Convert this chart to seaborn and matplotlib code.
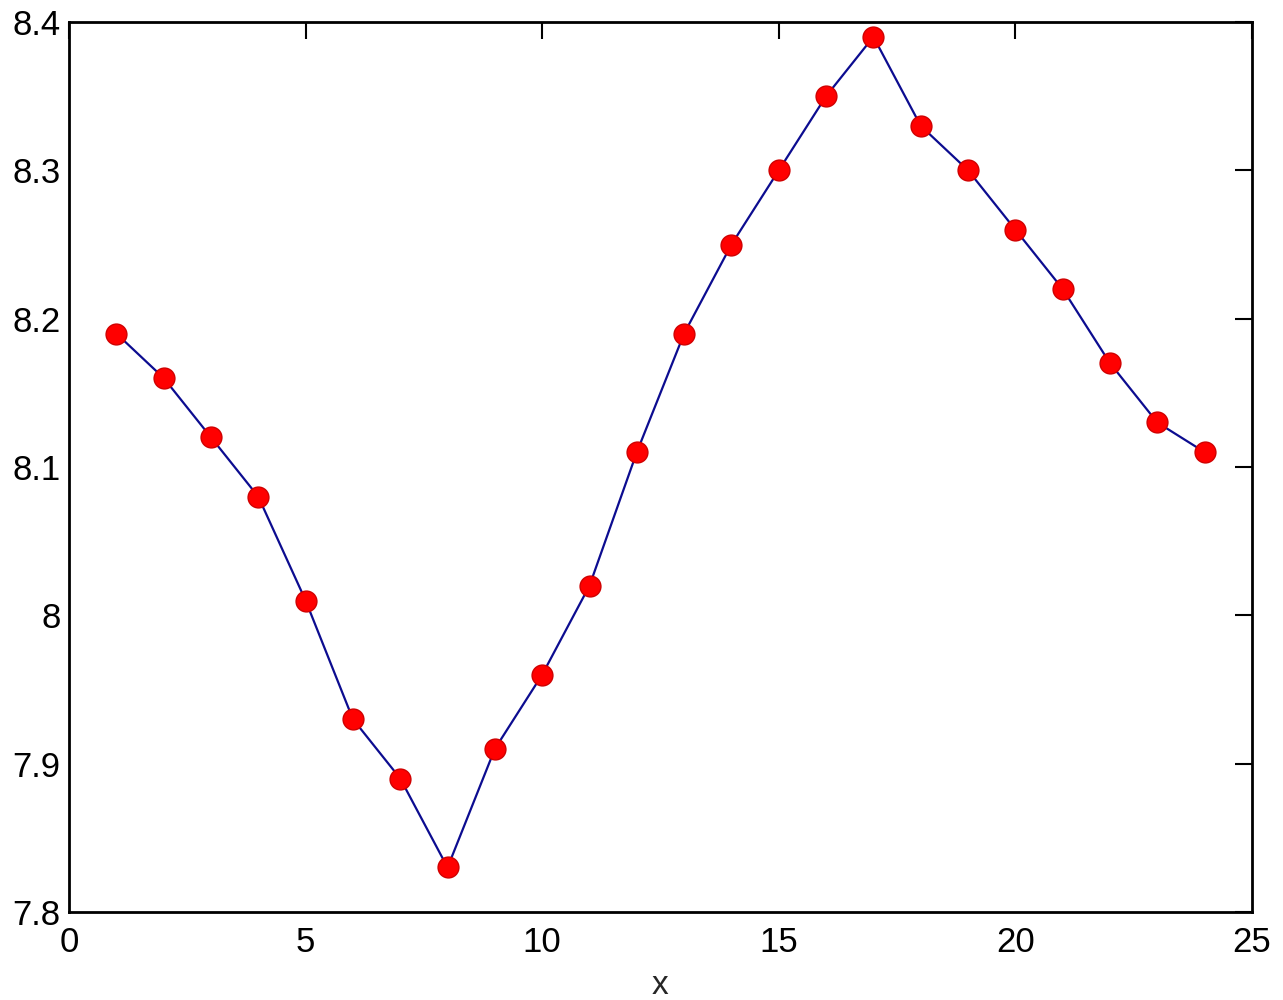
import numpy as np
import pandas as pd
import matplotlib
matplotlib.use('Agg')
import matplotlib.pyplot as plt
import seaborn as sns

# данные с графика
x_vals = list(range(1, 25))
y_vals = [8.19, 8.16, 8.12, 8.08, 8.01, 7.93, 7.89, 7.83, 7.91, 7.96, 8.02, 8.11,
          8.19, 8.25, 8.30, 8.35, 8.39, 8.33, 8.30, 8.26, 8.22, 8.17, 8.13, 8.11]
x_ticks = [0, 5, 10, 15, 20, 25]
y_ticks = [7.8, 7.9, 8.0, 8.1, 8.2, 8.3, 8.4]
y_tick_labels = ['7.8', '7.9', '8', '8.1', '8.2', '8.3', '8.4']

df = pd.DataFrame({'x': x_vals, 'y': y_vals})

sns.set_style('white')
plt.rcParams['font.family'] = ['Liberation Sans', 'DejaVu Sans']

fig = plt.figure(figsize=(12.83, 10), dpi=100)
ax = fig.add_axes([0.0538, 0.088, 0.922, 0.89])

sns.lineplot(data=df, x='x', y='y', ax=ax, color='#0c0c90', linewidth=1.6,
             marker='o', markersize=15, markerfacecolor='#ff0000',
             markeredgecolor='#d00000', markeredgewidth=1)

ax.set_xlim(0, 25)
ax.set_ylim(7.8, 8.4)
ax.set_xticks(x_ticks)
ax.set_yticks(y_ticks)
ax.set_yticklabels(y_tick_labels)
ax.set_xlabel('x', fontsize=24, labelpad=8)
ax.set_ylabel('')

ax.tick_params(direction='in', length=12, width=1.5, top=True, right=True,
               labelsize=25, colors='black')
ax.tick_params(axis='x', pad=10)
ax.tick_params(axis='y', pad=6)
for s in ax.spines.values():
    s.set_linewidth(2)
    s.set_color('black')

fig.savefig('out.png', dpi=100)
